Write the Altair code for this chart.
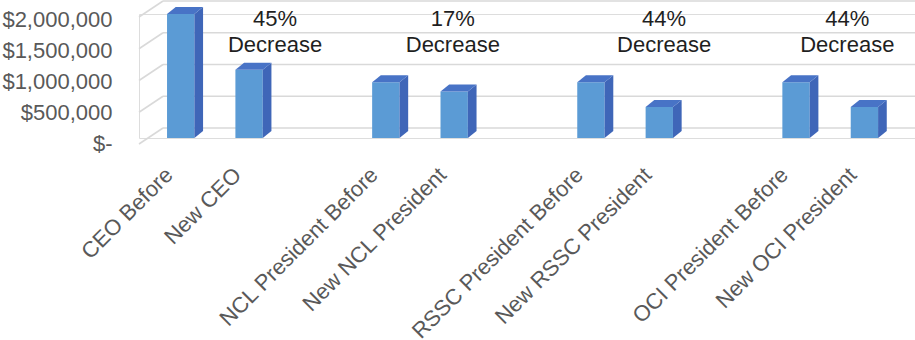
import json
import altair as alt
import pandas as pd

# ---------------- data ----------------
categories = [
    "CEO Before", "New CEO",
    "NCL President Before", "New NCL President",
    "RSSC President Before", "New RSSC President",
    "OCI President Before", "New OCI President",
]
pay = [2000000, 1100000, 900000, 750000, 900000, 500000, 900000, 500000]
annot_pct = ["45%", "17%", "44%", "44%"]
annot_word = "Decrease"
y_ticks = [0, 500000, 1000000, 1500000, 2000000]

# ---------------- layout / style constants ----------------
FONT = "Liberation Sans"
FRONT = "#5B9BD5"
SIDE = "#3F66B8"
TOP = "#4873C6"
GRID = "#D9D9D9"
HALF = 0.2            # half bar width (slot units)
DX = 0.127            # 3-D depth, x (slot units)
DY = 113000           # 3-D depth, y (value units)
X_MIN, X_MAX = -0.61, 10.74
WALL_BACK = X_MIN + 0.351
ANNOT_SHIFT = [0.38, -0.02, 0.07, -0.25]
ANNOT_Y = 1920000
W, H = 776, 124

slots = [(i // 2) * 3 + (i % 2) for i in range(len(categories))]
slot_names = [""] * (max(slots) + 1)
for s, c in zip(slots, categories):
    slot_names[s] = c

XS = alt.Scale(domain=[X_MIN, X_MAX], nice=False, zero=False)
YS = alt.Scale(domain=[0, 2000000], nice=False, zero=False)
# back wall scale: 0 -> 10 px above bar floor, 2M -> 13 px above bar top
BACK_D = 2000000 * H / 127
BACK_HI = BACK_D * 114 / H
YS_BACK = alt.Scale(domain=[BACK_HI - BACK_D, BACK_HI], nice=False, zero=False)

X_AXIS = alt.Axis(
    values=slots, labelExpr=f"{json.dumps(slot_names)}[datum.value]",
    labelAngle=-45, labelAlign="right", labelBaseline="middle",
    labelPadding=33, labelOffset=-12, labelFont=FONT, labelFontSize=22,
    labelColor="#595959", labelLimit=0, labelOverlap=False,
    ticks=False, domain=False, grid=False, title=None,
)
Y_AXIS = alt.Axis(
    orient="left", values=y_ticks, tickCount=5,
    labelExpr="datum.value == 0 ? '$-' : '$' + format(datum.value, ',')",
    labelFont=FONT, labelFontSize=22, labelColor="#595959",
    labelLimit=0, labelOverlap=False, labelSeparation=0,
    labelPadding=27, labelOffset=5, ticks=False, domain=False, grid=False, title=None,
)

# ---------------- tables ----------------
front = pd.DataFrame({
    "name": categories, "slot": slots, "value": pay,
})
front["x1"] = front["slot"] - HALF
front["x2"] = front["slot"] + HALF

side_rows, top_rows = [], []
for i, (s, v) in enumerate(zip(slots, pay)):
    side_rows += [
        {"bar": i, "x": s + HALF, "lo": 0, "hi": v},
        {"bar": i, "x": s + HALF + DX, "lo": DY, "hi": v + DY},
    ]
    top_rows += [
        {"bar": i, "x": s - HALF, "lo": v, "hi": v},
        {"bar": i, "x": s - HALF + DX, "lo": v, "hi": v + DY},
        {"bar": i, "x": s + HALF, "lo": v, "hi": v + DY},
        {"bar": i, "x": s + HALF + DX, "lo": v + DY, "hi": v + DY},
    ]
side = pd.DataFrame(side_rows)
top = pd.DataFrame(top_rows)

grid = pd.DataFrame({"v": y_ticks})

annot = pd.DataFrame({
    "x": [slots[2 * g + 1] + ANNOT_SHIFT[g] for g in range(len(annot_pct))],
    "label": [f"{p}\n{annot_word}" for p in annot_pct],
})

# ---------------- layers ----------------
back_lines = alt.Chart(grid).mark_rule(color=GRID, strokeWidth=1.6).encode(
    x=alt.X("a:Q", scale=XS, axis=X_AXIS),
    x2="b:Q",
    y=alt.Y("v:Q", scale=YS_BACK, axis=None),
).transform_calculate(a=f"{WALL_BACK}", b=f"{X_MAX}")

wall_lines = alt.Chart(grid).mark_rule(color=GRID, strokeWidth=1.6, yOffset=16).encode(
    x=alt.X("a:Q", scale=XS, axis=X_AXIS),
    x2="b:Q",
    y=alt.Y("v:Q", scale=YS_BACK, axis=None),
    y2="v:Q",
).transform_calculate(a=f"{X_MIN}", b=f"{WALL_BACK}")

grid_layer = alt.layer(back_lines, wall_lines)

front_bars = alt.Chart(front).mark_rect(color=FRONT).encode(
    x=alt.X("x1:Q", scale=XS, axis=X_AXIS),
    x2="x2:Q",
    y=alt.Y("value:Q", scale=YS, stack=None, axis=Y_AXIS),
    y2=alt.datum(0),
)

side_faces = alt.Chart(side).mark_area(color=SIDE, interpolate="linear").encode(
    x=alt.X("x:Q", scale=XS, axis=X_AXIS),
    y=alt.Y("lo:Q", scale=YS, stack=None, axis=Y_AXIS),
    y2="hi:Q",
    detail="bar:N",
)

top_faces = alt.Chart(top).mark_area(color=TOP, interpolate="linear").encode(
    x=alt.X("x:Q", scale=XS, axis=X_AXIS),
    y=alt.Y("lo:Q", scale=YS, stack=None, axis=Y_AXIS),
    y2="hi:Q",
    detail="bar:N",
)

notes = alt.Chart(annot).mark_text(
    font=FONT, fontSize=22, color="#1f1f1f", lineBreak="\n", lineHeight=26,
    align="center", baseline="middle",
).encode(
    x=alt.X("x:Q", scale=XS, axis=X_AXIS),
    y=alt.datum(ANNOT_Y, scale=YS, axis=Y_AXIS),
    text="label:N",
)

bar_layer = alt.layer(front_bars, side_faces, top_faces, notes)

chart = alt.layer(grid_layer, bar_layer).resolve_scale(y="independent").properties(
    width=W, height=H,
    autosize=alt.AutoSizeParams(type="none"),
    padding={"left": 139, "top": 14, "right": 0, "bottom": 202},
).configure_view(stroke=None).configure(background="white")

chart.save("out.html", embed_options={"renderer": "svg", "actions": False})
